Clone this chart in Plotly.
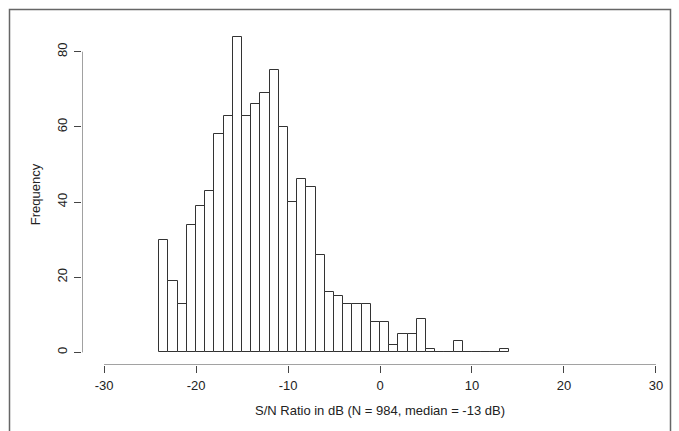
import plotly.graph_objects as go

# Histogram bins: 1 dB wide, left edges from -24 to 13
bin_left = list(range(-24, 14))
counts = [30, 19, 13, 34, 39, 43, 58, 63, 84, 63, 66, 69, 75, 60, 40, 46, 44, 26,
          16, 15, 13, 13, 13, 8, 8, 2, 5, 5, 9, 1, 0, 0, 3, 0, 0, 0, 0, 1]
x_ticks = [-30, -20, -10, 0, 10, 20, 30]
y_ticks = [0, 20, 40, 60, 80]
x_title = "S/N Ratio in dB (N = 984, median = -13 dB)"
y_title = "Frequency"

W, H = 679, 431
L, R, T, B = 82, 1, 24, 66
x_rng = [-32.4, 32.4]
y_rng = [-3.36, 87.36]

centers = [b + 0.5 for b in bin_left]

fig = go.Figure()
fig.add_trace(go.Bar(
    x=centers, y=counts, width=1,
    marker=dict(color="white", line=dict(color="#333333", width=1)),
    showlegend=False, hoverinfo="x+y", cliponaxis=False,
))

font = dict(family="Liberation Sans, Arial, sans-serif", size=13, color="#222222")

line_col = "#444444"
shapes = [
    dict(type="line", xref="x", yref="y", x0=min(x_ticks), x1=max(x_ticks),
         y0=y_rng[0], y1=y_rng[0], line=dict(color=line_col, width=1)),
    dict(type="line", xref="x", yref="y", x0=x_rng[0], x1=x_rng[0],
         y0=min(y_ticks), y1=max(y_ticks), line=dict(color=line_col, width=1)),
]
pw = W - L - R
ph = H - T - B
def px2x(p):
    return (p - L) / pw
def py2y(p):
    return 1 - (p - T) / ph
shapes.append(dict(type="rect", xref="paper", yref="paper",
                   x0=px2x(9.5), x1=px2x(670.5), y0=py2y(445), y1=py2y(9.5),
                   line=dict(color="#666666", width=1.5), layer="below"))

fig.update_layout(
    width=W, height=H,
    margin=dict(l=L, r=R, t=T, b=B, pad=0, autoexpand=False),
    paper_bgcolor="white", plot_bgcolor="white",
    font=font,
    bargap=0,
    shapes=shapes,
    xaxis=dict(range=x_rng, tickvals=x_ticks, ticktext=[str(v) for v in x_ticks],
               showgrid=False, zeroline=False, showline=False, automargin=False,
               ticks="outside", ticklen=7, tickwidth=1, tickcolor=line_col,
               ticklabelstandoff=1,
               title=dict(text=x_title, standoff=14, font=font), fixedrange=True),
    yaxis=dict(range=y_rng, tickvals=y_ticks, ticktext=[str(v) for v in y_ticks],
               tickangle=-90, automargin=False,
               showgrid=False, zeroline=False, showline=False,
               ticks="outside", ticklen=7, tickwidth=1, tickcolor=line_col,
               ticklabelstandoff=2,
               title=dict(text=y_title, standoff=11, font=font), fixedrange=True),
)

fig.write_html("out.html", config={"displayModeBar": False},
               post_script="document.body.style.margin='0';document.body.style.overflow='hidden';")
